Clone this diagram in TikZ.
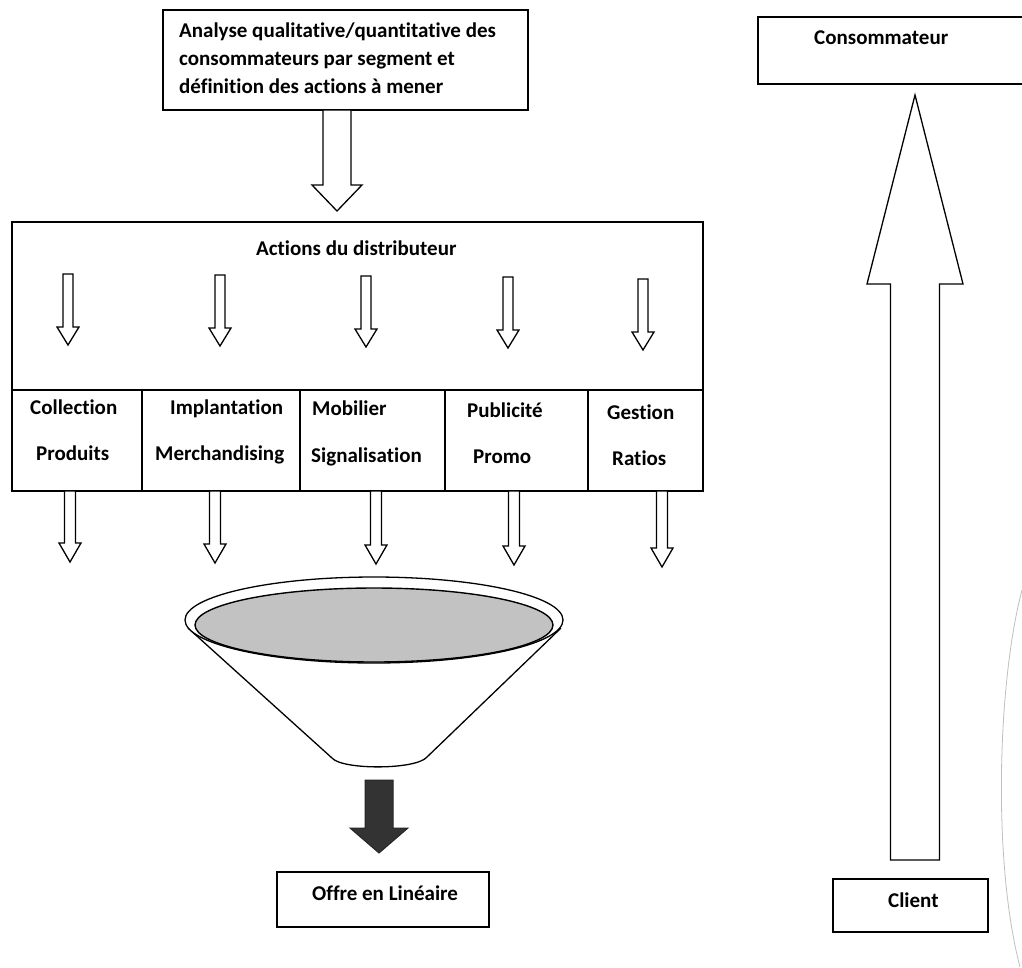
\documentclass[tikz,border=0pt]{standalone}
\usepackage{fontspec}
\setmainfont{Carlito}[Ligatures=NoCommon]
% hollow block arrow: centre x, start y, neck y, tip y, half shaft, half head, style
\newcommand{\blockarrow}[7]{%
  \draw[#7] (#1-#5,#2) -- (#1+#5,#2) -- (#1+#5,#3) -- (#1+#6,#3) -- (#1,#4)
    -- (#1-#6,#3) -- (#1-#5,#3) -- cycle;}
\tikzset{
  frame/.style={draw, line width=1.4pt, fill=white},
  lbl/.style={font=\fontsize{21}{25}\selectfont\bfseries, inner sep=0pt, anchor=base west},
  hollow/.style={draw, line width=1.3pt, fill=white, line join=miter},
  solid arrow/.style={draw=black!85, line width=1pt, fill=black!80, line join=miter},
}
\begin{document}
\begin{tikzpicture}[x=1pt, y=-1pt]
\clip (0,0) rectangle (1022,967);
\fill[white] (0,0) rectangle (1022,967);

% ---- analysis box and arrow down to the distributor block
\node[frame, minimum width=365pt, minimum height=100pt, inner sep=0pt] (analyse) at (345.5,60) {};
\node[lbl] (a1) at (179,37) {Analyse qualitative/quantitative des};
\node[lbl] (a2) at (179,65) {consommateurs par segment et};
\node[lbl] (a3) at (179,93) {définition des actions à mener};
\blockarrow{337}{110}{185}{211}{14}{25}{hollow}

% ---- distributor actions block
\node[frame, minimum width=691pt, minimum height=269pt, inner sep=0pt] (actions) at (357.5,356.5) {};
\node[lbl] (title) at (256,255) {Actions du distributeur};
\coordinate (divL) at (12,390);
\coordinate (divR) at (703,390);
\draw[line width=1.4pt] (divL) -- (divR);
\foreach \cx in {142,300,445,588}{
  \draw[line width=1.4pt] (\cx,390) -- (\cx,491);
}

% arrows inside the block
\foreach \cx/\yt/\yn/\yp in {68/274/327/345, 220/275/328/346, 366/276/329/347, 508/277/330/348, 643/279/332/350}{
  \blockarrow{\cx}{\yt}{\yn}{\yp}{5}{11}{hollow}
}

% the five levers
\node[lbl] (c1a) at (30,414)  {Collection};
\node[lbl] (c1b) at (36,460)  {Produits};
\node[lbl] (c2a) at (170,414) {Implantation};
\node[lbl] (c2b) at (155,460) {Merchandising};
\node[lbl] (c3a) at (312,415) {Mobilier};
\node[lbl] (c3b) at (311,462) {Signalisation};
\node[lbl] (c4a) at (467,417) {Publicité};
\node[lbl] (c4b) at (473,463) {Promo};
\node[lbl] (c5a) at (607,419) {Gestion};
\node[lbl] (c5b) at (612,465) {Ratios};

% arrows leaving the block towards the funnel
\foreach \cx/\yn/\yp in {70/543/562, 215/544/563, 376/545/564, 514/546/565, 662/548/567}{
  \blockarrow{\cx}{491}{\yn}{\yp}{5.5}{11}{hollow}
}

% ---- funnel
\draw[line width=1.3pt, fill=white] (188,628) -- (332,758)
  .. controls (342,770) and (416,770) .. (427,757) -- (561,628);
\draw[frame, line width=1.3pt] (374,620) ellipse [x radius=189, y radius=43];
\draw[line width=1.4pt, fill=black!24] (374,625) ellipse [x radius=179, y radius=37];

% dark output arrow and result box
\blockarrow{379}{780}{828}{853}{14}{29}{solid arrow}
\node[frame, minimum width=212pt, minimum height=55pt, inner sep=0pt] (offre) at (383,899.5) {};
\node[lbl] (offreT) at (312,900) {Offre en Linéaire};

% ---- right column: client up to consumer
\node[frame, minimum width=272pt, minimum height=67pt, inner sep=0pt] (conso) at (894,50.5) {};
\node[lbl] (consoT) at (814,44) {Consommateur};
\node[frame, minimum width=155pt, minimum height=53pt, inner sep=0pt] (client) at (910.5,905.5) {};
\node[lbl] (clientT) at (888,907) {Client};
\blockarrow{915}{860}{284}{95}{24.5}{48}{hollow}

% faint arc at the right margin
\draw[black!25, line width=0.8pt] (1022,590) .. controls (998,680) and (992,860) .. (1020,967);
\end{tikzpicture}
\end{document}
